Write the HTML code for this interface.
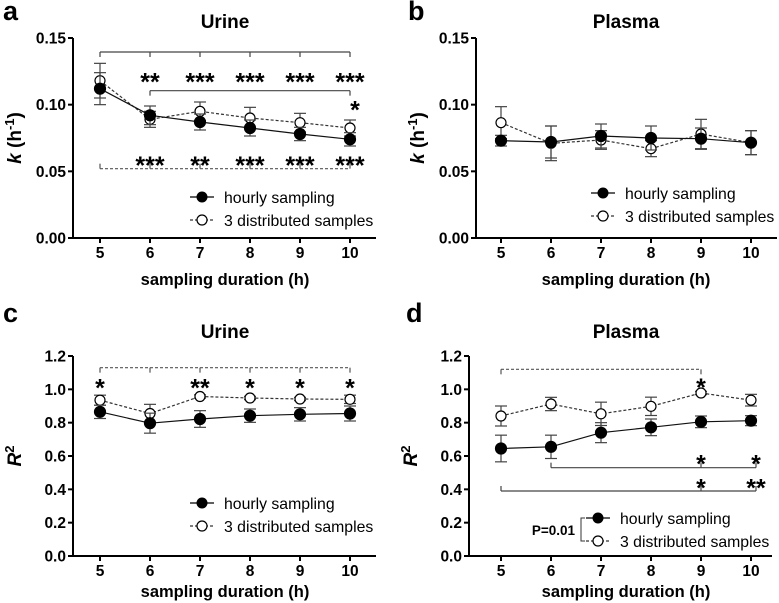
<!DOCTYPE html>
<html><head><meta charset="utf-8"><style>
body{margin:0;background:#fff;}
svg{display:block;font-family:"Liberation Sans",Arial,sans-serif;}
</style></head><body>
<svg id="fig" width="779" height="603" viewBox="0 0 779 603" xmlns="http://www.w3.org/2000/svg"></svg>
<script>
const xCats=[5,6,7,8,9,10];
const aHourly=[0.112,0.092,0.087,0.0825,0.078,0.074];
const aHourlyErr=[0.012,0.007,0.006,0.006,0.005,0.005];
const aDist=[0.118,0.089,0.095,0.090,0.0865,0.0825];
const aDistErr=[0.013,0.006,0.007,0.008,0.007,0.006];
const bHourly=[0.073,0.072,0.0765,0.075,0.0745,0.0715];
const bHourlyErr=[0.004,0.012,0.009,0.009,0.008,0.009];
const bDist=[0.0865,0.071,0.0735,0.067,0.078,0.0715];
const bDistErr=[0.012,0.013,0.007,0.006,0.011,0.009];
const cHourly=[0.865,0.797,0.822,0.842,0.85,0.855];
const cHourlyErr=[0.04,0.06,0.05,0.04,0.04,0.045];
const cDist=[0.935,0.855,0.957,0.948,0.942,0.94];
const cDistErr=[0.03,0.055,0.01,0.01,0.01,0.025];
const dHourly=[0.645,0.655,0.74,0.772,0.805,0.812];
const dHourlyErr=[0.08,0.07,0.06,0.05,0.035,0.03];
const dDist=[0.84,0.912,0.853,0.898,0.978,0.935];
const dDistErr=[0.06,0.04,0.07,0.055,0.01,0.035];
const kTicks=["0.00","0.05","0.10","0.15"];
const rTicks=["0.0","0.2","0.4","0.6","0.8","1.0","1.2"];

const NS="http://www.w3.org/2000/svg";
const svg=document.getElementById('fig');
function el(tag,attrs,parent,text){const e=document.createElementNS(NS,tag);for(const k in attrs)e.setAttribute(k,attrs[k]);if(text!==undefined)e.textContent=text;(parent||svg).appendChild(e);return e;}

function panel(p){
  const g=el('g',{});
  
  
  const X=v=>p.x5+(v-5)*(p.x10-p.x5)/5;
  const Y=v=>p.yb-(v-p.ymin)/(p.ymax-p.ymin)*(p.yb-p.yt);
  p.X=X;p.Y=Y;
  const lt=el('text',{x:p.lx0,y:p.ly0,'font-size':27,'font-weight':'bold'},g,p.id);
  
  const tt=el('text',{x:(p.x5+p.x10)/2,y:p.ty,'font-size':19,'font-weight':'bold','text-anchor':'middle'},g,p.title);
  
  const ya=el('line',{x1:p.ax,y1:p.yt,x2:p.ax,y2:p.yb+1,stroke:'#000','stroke-width':2},g);
  
  const xa=el('line',{x1:p.ax-1,y1:p.yb,x2:p.xe,y2:p.yb,stroke:'#000','stroke-width':2},g);
  
  p.ticks.forEach(t=>{
    const y=Y(parseFloat(t));
    el('line',{x1:p.ax-5,y1:y,x2:p.ax,y2:y,stroke:'#000','stroke-width':2},g);
    const tl=el('text',{x:p.ax-7,y:y+5.5,'font-size':15.5,'font-weight':'bold','text-anchor':'end'},g,t);
    
  });
  xCats.forEach(c=>{
    el('line',{x1:X(c),y1:p.yb,x2:X(c),y2:p.yb+5,stroke:'#000','stroke-width':2},g);
    const tl=el('text',{x:X(c),y:p.yb+p.tko,'font-size':15.5,'font-weight':'bold','text-anchor':'middle'},g,String(c));
    
  });
  const xl=el('text',{x:(p.x5+p.x10)/2,y:p.yb+p.xlo,'font-size':16.5,'font-weight':'bold','text-anchor':'middle'},g,'sampling duration (h)');
  
  const yc=(p.yt+p.yb)/2;
  const yl=el('text',{x:0,y:0,'font-size':19,'font-weight':'bold','text-anchor':'middle',transform:`translate(${p.ax-52},${yc}) rotate(-90)`},g);
  
  if(p.kind==='k'){
    el('tspan',{'font-style':'italic'},yl,'k');el('tspan',{},yl,' (h');el('tspan',{dy:-7,'font-size':13},yl,'-1');el('tspan',{dy:7},yl,')');
  } else {
    el('tspan',{'font-style':'italic'},yl,'R');el('tspan',{dy:-7,'font-size':13},yl,'2');
  }
  function series(vals,errs,filled,name){
    const sg=el('g',{},g);
    
    const pts=vals.map((v,i)=>X(xCats[i])+','+Y(v)).join(' ');
    el('polyline',{points:pts,fill:'none',stroke:filled?'#111':'#333','stroke-width':1.2,'stroke-dasharray':filled?'none':'3,2'},sg);
    vals.forEach((v,i)=>{
      const x=X(xCats[i]),y1=Y(v+errs[i]),y2=Y(v-errs[i]);
      el('line',{x1:x,y1:y1,x2:x,y2:y2,stroke:'#444','stroke-width':1.2},sg);
      el('line',{x1:x-6,y1:y1,x2:x+6,y2:y1,stroke:'#444','stroke-width':1.2},sg);
      el('line',{x1:x-6,y1:y2,x2:x+6,y2:y2,stroke:'#444','stroke-width':1.2},sg);
      const c=el('circle',{cx:x,cy:Y(v),r:filled?5.5:5,fill:filled?'#000':'#fff',stroke:'#000','stroke-width':1.2},sg);
      
      
    });
  }
  series(p.dist,p.distErr,false,'series-3-distributed-samples');
  series(p.hourly,p.hourlyErr,true,'series-hourly-sampling');
  const lg=el('g',{},g);
  
  const lx=p.lx,ly=p.ly;
  el('line',{x1:lx,y1:ly,x2:lx+24,y2:ly,stroke:'#000','stroke-width':1.2},lg);
  el('circle',{cx:lx+12,cy:ly,r:5.5,fill:'#000'},lg);
  el('text',{x:lx+34,y:ly+6,'font-size':15.8},lg,'hourly sampling');
  el('line',{x1:lx,y1:ly+23,x2:lx+24,y2:ly+23,stroke:'#333','stroke-width':1.2,'stroke-dasharray':'3,2'},lg);
  el('circle',{cx:lx+12,cy:ly+23,r:5,fill:'#fff',stroke:'#000','stroke-width':1.2},lg);
  el('text',{x:lx+34,y:ly+29,'font-size':15.8},lg,'3 distributed samples');
  return g;
}
function bracket(p,g,y,from,to,tickX,dir,dashed,name){
  const b=el('g',{},g);
  
  const yy=p.Y(y);
  const st={stroke:dashed?'#555':'#444','stroke-width':1.2};
  el('line',Object.assign({x1:p.X(from),y1:yy,x2:p.X(to),y2:yy,'stroke-dasharray':dashed?'3,2':'none'},st),b);
  tickX.forEach(t=>el('line',Object.assign({x1:p.X(t),y1:yy,x2:p.X(t),y2:yy+dir*5},st),b));
}
function stars(p,g,y,items){
  items.forEach(([c,s])=>{
    const t=el('text',{x:p.X(c),y:p.Y(y)+14,'font-size':25,'font-weight':'bold','text-anchor':'middle'},g,s);
    
  });
}
const pa={id:'a',title:'Urine',kind:'k',ax:73,yt:38,yb:238,x5:100,x10:350,xe:376,ymin:0,ymax:0.15,ticks:kTicks,hourly:aHourly,hourlyErr:aHourlyErr,dist:aDist,distErr:aDistErr,lx:190,ly:197,lx0:3,ly0:20,ty:28,tko:20,xlo:47};
const ga=panel(pa);
bracket(pa,ga,0.1395,5,10,xCats,1,false,'bracket-hourly-vs-5h');
stars(pa,ga,0.121,[[6,'**'],[7,'***'],[8,'***'],[9,'***'],[10,'***']]);
bracket(pa,ga,0.1105,6,10,[6,10],1,false,'bracket-distributed-vs-6h');
stars(pa,ga,0.1,[[10.1,'*']]);
bracket(pa,ga,0.052,5,10,xCats,-1,true,'bracket-distributed-vs-5h');
stars(pa,ga,0.0585,[[6,'***'],[7,'**'],[8,'***'],[9,'***'],[10,'***']]);

const pb={id:'b',title:'Plasma',kind:'k',ax:476,yt:38,yb:238,x5:501,x10:751,xe:777,ymin:0,ymax:0.15,ticks:kTicks,hourly:bHourly,hourlyErr:bHourlyErr,dist:bDist,distErr:bDistErr,lx:591,ly:193,lx0:408,ly0:20,ty:28,tko:20,xlo:47};
panel(pb);

const pc={id:'c',title:'Urine',kind:'r',ax:73,yt:356,yb:556,x5:100,x10:350,xe:376,ymin:0,ymax:1.2,ticks:rTicks,hourly:cHourly,hourlyErr:cHourlyErr,dist:cDist,distErr:cDistErr,lx:190,ly:503,lx0:3,ly0:322,ty:338,tko:20,xlo:41};
const gc=panel(pc);
bracket(pc,gc,1.13,5,10,xCats,1,true,'bracket-distributed-vs-hourly');
stars(pc,gc,1.04,[[5,'*'],[7,'**'],[8,'*'],[9,'*'],[10,'*']]);

const pd={id:'d',title:'Plasma',kind:'r',ax:469,yt:356,yb:556,x5:501,x10:751,xe:772,ymin:0,ymax:1.2,ticks:rTicks,hourly:dHourly,hourlyErr:dHourlyErr,dist:dDist,distErr:dDistErr,lx:586,ly:518,lx0:406,ly0:322,ty:338,tko:20,xlo:41};
const gd=panel(pd);
bracket(pd,gd,1.12,5,9,[5,9],1,true,'bracket-distributed-vs-5h');
stars(pd,gd,1.045,[[9,'*']]);
bracket(pd,gd,0.53,6,10.1,[6,9,10.1],-1,false,'bracket-hourly-vs-6h');
stars(pd,gd,0.585,[[9,'*'],[10.1,'*']]);
bracket(pd,gd,0.39,5,10.1,[5,9,10.1],-1,false,'bracket-hourly-vs-5h');
stars(pd,gd,0.44,[[9,'*'],[10.1,'**']]);
const pg=el('g',{},gd);

el('polyline',{points:'585,518 581,518 581,541 585,541',fill:'none',stroke:'#333','stroke-width':1},pg);
el('text',{x:575,y:535,'font-size':13.5,'font-weight':'bold','text-anchor':'end'},pg,'P=0.01');
</script>
</body></html>
